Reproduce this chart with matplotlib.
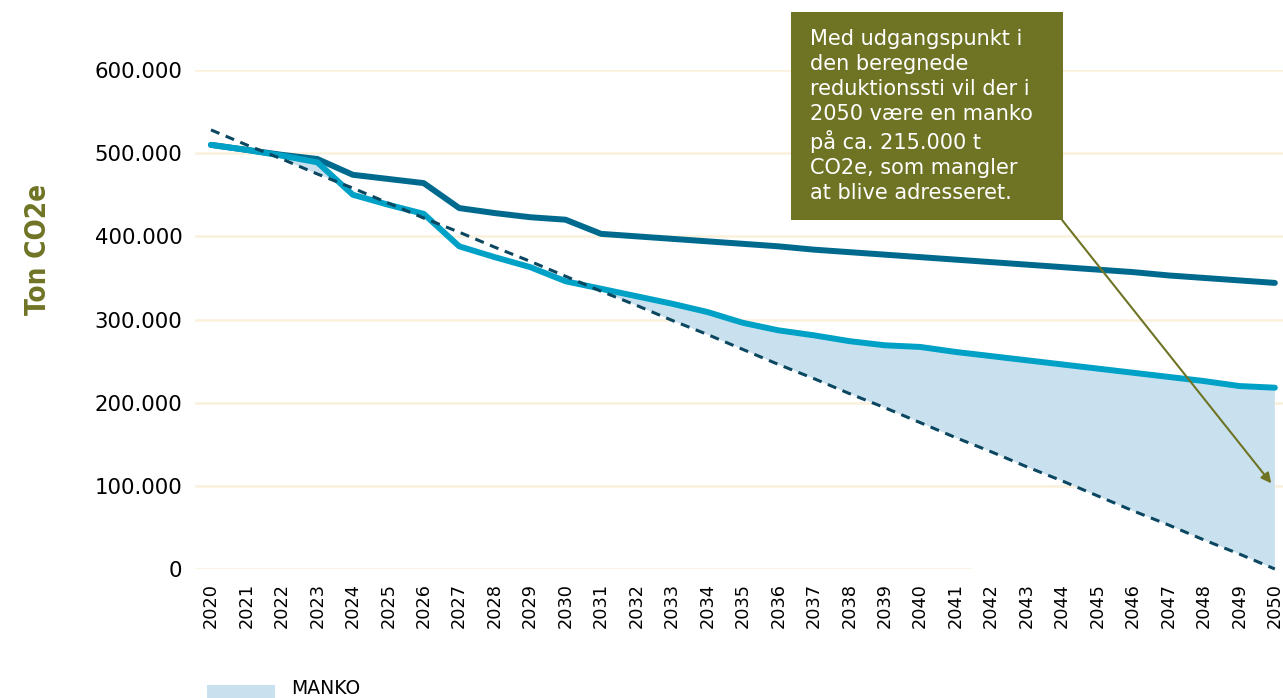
import matplotlib.pyplot as plt
from matplotlib.patches import Rectangle
from matplotlib.ticker import FuncFormatter

# Data (ton CO2e)
years = list(range(2020, 2051))
fremskrivning = [510000, 504000, 498000, 493000, 474000, 469000, 464000, 434000, 428000, 423000,
                 420000, 403000, 400000, 397000, 394000, 391000, 388000, 384000, 381000, 378000,
                 375000, 372000, 369000, 366000, 363000, 360000, 357000, 353000, 350000, 347000,
                 344000]
tiltag = [510000, 504000, 497000, 489000, 450000, 438000, 427000, 388000, 375000, 363000,
          346000, 337000, 328000, 319000, 309000, 296000, 287000, 281000, 274000, 269000,
          267000, 261000, 256000, 251000, 246000, 241000, 236000, 231000, 226000, 220000,
          218000]
reduktionssti = [528000, 510000, 493000, 475000, 458000, 440000, 422000, 405000, 387000, 370000,
                 352000, 334000, 317000, 299000, 282000, 264000, 246000, 229000, 211000, 194000,
                 176000, 158000, 141000, 123000, 106000, 88000, 70000, 53000, 35000, 18000,
                 0]
yticks = [0, 100000, 200000, 300000, 400000, 500000, 600000]

olive = '#6f7425'
dark = '#006a8e'
light = '#00a1c6'
dash = '#0b4760'
fill = '#c9e1ef'
grid = '#faf1dc'

fig = plt.figure(figsize=(12.83, 6.98), dpi=100)
ax = fig.add_axes([0.152, 0.1848, 0.848, 0.7149])

# gitterlinjer
for v in yticks:
    if v == 0:
        ax.axhline(v, xmax=0.712, color=grid, lw=1.8, zorder=0)
    else:
        ax.axhline(v, color=grid, lw=1.8, zorder=0)

# manko-areal
ax.fill_between(years, tiltag, reduktionssti, where=[a >= b for a, b in zip(tiltag, reduktionssti)],
                interpolate=True, color=fill, lw=0, zorder=1)

ax.plot(years, fremskrivning, color=dark, lw=4.3, solid_capstyle='round', solid_joinstyle='round',
        clip_on=False, zorder=3)
ax.plot(years, tiltag, color=light, lw=4.3, solid_capstyle='round', solid_joinstyle='round',
        clip_on=False, zorder=3)
ax.plot(years, reduktionssti, color=dash, lw=2.2, dashes=(3, 2.2), clip_on=False, zorder=4)

ax.set_xlim(2019.55, 2050.23)
ax.set_ylim(0, 600000)
ax.set_xticks(years)
ax.set_xticklabels([str(y) for y in years], rotation=90, fontsize=12.8)
ax.set_yticks(yticks)
ax.yaxis.set_major_formatter(FuncFormatter(lambda v, p: '0' if v == 0 else f'{int(v):,}'.replace(',', '.')))
ax.tick_params(axis='y', length=0, pad=9, labelsize=15.3)
ax.tick_params(axis='x', length=0, pad=10)
for s in ax.spines.values():
    s.set_visible(False)

fig.text(0.0296, 0.642, 'Ton CO2e', rotation=90, color=olive, fontsize=20, fontweight='heavy',
         fontstretch='condensed', ha='center', va='center')

# tekstboks
fig.patches.append(Rectangle((0.6165, 0.6848), 0.212, 0.298, transform=fig.transFigure,
                             facecolor=olive, edgecolor='none', zorder=5))
fig.text(0.6313, 0.959, 'Med udgangspunkt i\nden beregnede\nreduktionssti vil der i\n2050 være en manko\n'
         'på ca. 215.000 t\nCO2e, som mangler\nat blive adresseret.',
         color='white', fontsize=15, va='top', ha='left', linespacing=1.32, zorder=6)
ax.annotate('', xy=(2049.9, 103000), xytext=(2044.0, 419600),
            arrowprops=dict(arrowstyle='-|>', color=olive, lw=1.5, mutation_scale=15,
                            shrinkA=0, shrinkB=0), annotation_clip=False, zorder=6)

# signatur
fig.patches.append(Rectangle((0.1613, 0.0), 0.053, 0.0186, transform=fig.transFigure,
                             facecolor=fill, edgecolor='none'))
fig.text(0.2268, 0.0136, 'MANKO', fontsize=13.5, va='center', ha='left')

fig.savefig('out.png', dpi=100)
